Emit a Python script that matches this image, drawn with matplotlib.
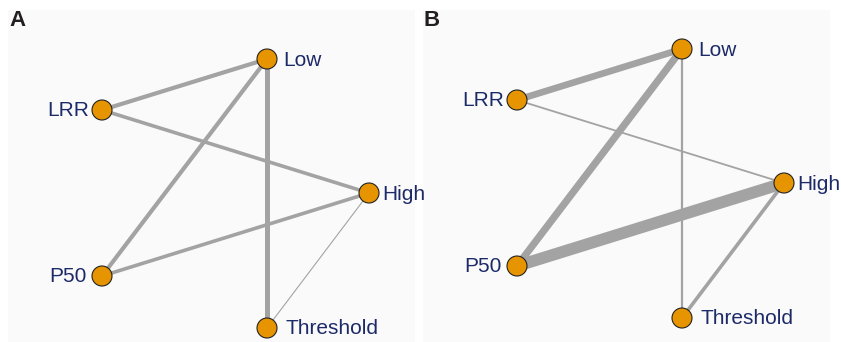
import numpy as np
import matplotlib
matplotlib.use("Agg")
import matplotlib.pyplot as plt
from matplotlib.patches import Circle, Rectangle

plt.rcParams['font.family'] = ['Liberation Sans', 'DejaVu Sans']

# network nodes
nodes = ["Low", "LRR", "High", "P50", "Threshold"]
node_x = [267, 102, 369, 102, 267]
node_y = [59, 110, 193, 276, 328]

# edges: (from, to) and line widths per panel
edges = [("LRR", "Low"), ("Low", "P50"), ("Low", "Threshold"),
         ("LRR", "High"), ("P50", "High"), ("High", "Threshold")]
width_a = [3.0, 3.0, 3.6, 2.6, 2.6, 0.8]
width_b = [4.8, 5.2, 1.6, 1.3, 8.5, 2.6]

panels = ["A", "B"]
panel_dx = [0, 415]
panel_dy = [0, -10]

# label offsets (px) and alignment for each node
lab_dx = [16, -13, 13, -15, 19]
lab_ha = ["left", "right", "left", "right", "left"]

fig = plt.figure(figsize=(8.41, 3.42), dpi=100)
ax = fig.add_axes([0, 0, 1, 1])
ax.set_xlim(0, 841)
ax.set_ylim(342, 0)
ax.axis("off")

edge_col = "#a3a3a3"
node_col = "#e69500"
text_col = "#1c2a68"

for p, name in enumerate(panels):
    ox = panel_dx[p]
    oy = panel_dy[p]
    ax.add_patch(Rectangle((8 + ox, 10), 407, 332, facecolor="#fafafa",
                           edgecolor="none", zorder=0))
    ax.text(9 + ox, 20, name, fontsize=16, fontweight="bold", color="#231f20",
            ha="left", va="center")
    pos = {n: (node_x[i] + ox, node_y[i] + oy) for i, n in enumerate(nodes)}
    widths = width_a if p == 0 else width_b
    for (a, b), w in zip(edges, widths):
        ax.plot([pos[a][0], pos[b][0]], [pos[a][1], pos[b][1]],
                color=edge_col, lw=w, solid_capstyle="butt", zorder=1)
    for i, n in enumerate(nodes):
        x, y = pos[n]
        ax.add_patch(Circle((x, y), 10, facecolor=node_col, edgecolor="#222222",
                            lw=0.8, zorder=2))
        ax.text(x + lab_dx[i], y + 1, n, fontsize=15, color=text_col,
                ha=lab_ha[i], va="center", zorder=3)

fig.savefig("out.png", dpi=100)
